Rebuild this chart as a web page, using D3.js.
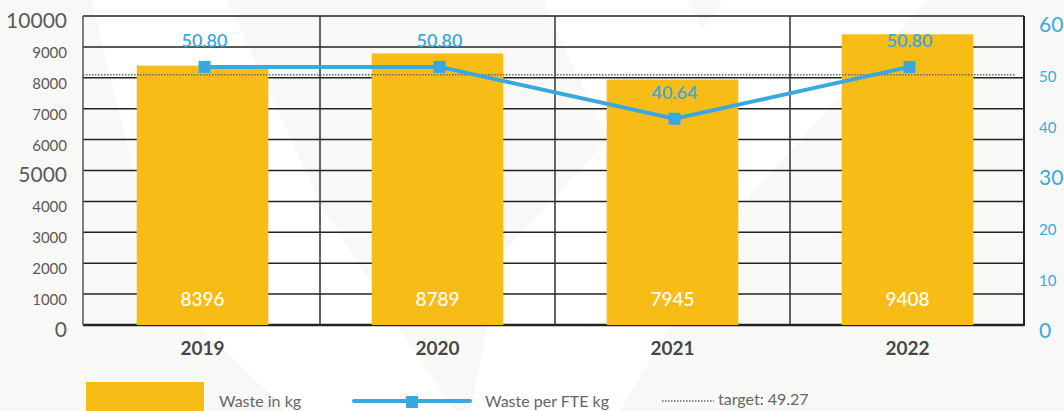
<!DOCTYPE html>
<html>
<head>
<meta charset="utf-8">
<script src="https://cdn.jsdelivr.net/npm/d3@7"></script>
<style>
  html, body { margin: 0; padding: 0; background: #f8f9f7; }
  svg { display: block; font-family: Lato, "Noto Sans", sans-serif; }
</style>
</head>
<body>
<script>
const years = ["2019", "2020", "2021", "2022"];
const wasteKg = [8396, 8789, 7945, 9408];
const wastePerFte = [50.80, 50.80, 40.64, 50.80];
const target = 49.27;
const leftTicks = [0, 1000, 2000, 3000, 4000, 5000, 6000, 7000, 8000, 9000, 10000];
const rightTicks = [0, 10, 20, 30, 40, 50, 60];
const bigLeft = [0, 5000, 10000];
const bigRight = [0, 30, 60];

const w = 1064;
const h = 411;
const plotLeft = 83;
const plotRight = 1024;
const plotTop = 16;
const plotBottom = 325;

const yellow = "#f8bc17";
const blue = "#3aa8e0";

const svg = d3.select("body").append("svg").attr("width", w).attr("height", h);

svg.append("rect").attr("width", w).attr("height", h).attr("fill", "#f8f9f7");

// faint watermark behind the chart
const mark = svg.append("g").attr("fill", "#ffffff");
mark.append("polygon")
  .attr("points", "92,0 227,0 321,205 403,334 455,411 288,411 203,330 142,205");
mark.append("polygon")
  .attr("points", "543,0 927,0 740,207 620,411 470,411 503,253 607,140");
svg.append("polygon").attr("fill", "#f8f9f7").attr("points", "687,0 703,30 723,0");

const x = d3.scaleBand().domain(years).range([85, 1025]);
const y = d3.scaleLinear().domain([0, 10000]).range([plotBottom, plotTop]);
const y2 = d3.scaleLinear().domain([0, 60]).range([326, 20]);

// horizontal grid
svg.append("g")
  .selectAll("line")
  .data(leftTicks)
  .enter()
  .append("line")
  .attr("x1", plotLeft)
  .attr("x2", plotRight)
  .attr("y1", (d) => y(d))
  .attr("y2", (d) => y(d))
  .attr("stroke", "#222")
  .attr("stroke-width", (d) => (d === 0 ? 2.5 : 1.5));

// category separators + frame sides
svg.append("g")
  .selectAll("line")
  .data(years.slice(1))
  .enter()
  .append("line")
  .attr("x1", (d) => x(d))
  .attr("x2", (d) => x(d))
  .attr("y1", plotTop)
  .attr("y2", plotBottom)
  .attr("stroke", "#333")
  .attr("stroke-width", 1.5);

svg.append("line").attr("x1", plotLeft).attr("x2", plotLeft).attr("y1", plotTop).attr("y2", plotBottom)
  .attr("stroke", "#555").attr("stroke-width", 1.5);
svg.append("line").attr("x1", plotRight).attr("x2", plotRight).attr("y1", plotTop).attr("y2", plotBottom + 1)
  .attr("stroke", "#222").attr("stroke-width", 2);

const barW = x.bandwidth() * 0.56;

svg.selectAll(".bar")
  .data(years)
  .enter()
  .append("rect")
  .attr("class", "bar")
  .attr("x", (d) => x(d) + x.bandwidth() / 2 - barW / 2)
  .attr("y", (d, i) => y(wasteKg[i]))
  .attr("width", barW)
  .attr("height", (d, i) => plotBottom - y(wasteKg[i]))
  .attr("fill", yellow);

// target dotted line
svg.append("line")
  .attr("x1", plotLeft)
  .attr("x2", 1015)
  .attr("y1", y2(target))
  .attr("y2", y2(target))
  .attr("stroke", "#666")
  .attr("stroke-width", 1.5)
  .attr("stroke-dasharray", "1.5,1.5");

// waste per FTE line
const cx = (d) => x(d) + x.bandwidth() / 2 + 2;
const line = d3.line()
  .x((d) => cx(d))
  .y((d, i) => y2(wastePerFte[i]));

svg.append("path")
  .datum(years)
  .attr("d", line)
  .attr("fill", "none")
  .attr("stroke", blue)
  .attr("stroke-width", 4);

svg.selectAll(".pt")
  .data(years)
  .enter()
  .append("rect")
  .attr("class", "pt")
  .attr("x", (d) => cx(d) - 6)
  .attr("y", (d, i) => y2(wastePerFte[i]) - 6)
  .attr("width", 12)
  .attr("height", 12)
  .attr("fill", blue);

svg.selectAll(".pt-label")
  .data(years)
  .enter()
  .append("text")
  .attr("class", "pt-label")
  .attr("x", (d) => cx(d))
  .attr("y", (d, i) => y2(wastePerFte[i]) - 27)
  .attr("text-anchor", "middle")
  .attr("dominant-baseline", "central")
  .attr("fill", blue)
  .attr("font-size", 18)
  .attr("font-weight", 600)
  .text((d, i) => wastePerFte[i].toFixed(2));

// values inside bars
svg.selectAll(".bar-label")
  .data(years)
  .enter()
  .append("text")
  .attr("class", "bar-label")
  .attr("x", (d) => x(d) + x.bandwidth() / 2)
  .attr("y", plotBottom - 27)
  .attr("text-anchor", "middle")
  .attr("dominant-baseline", "central")
  .attr("fill", "#fff")
  .attr("font-size", 19)
  .attr("font-weight", 500)
  .text((d, i) => wasteKg[i]);

// year labels
svg.selectAll(".year")
  .data(years)
  .enter()
  .append("text")
  .attr("class", "year")
  .attr("x", (d) => x(d) + x.bandwidth() / 2)
  .attr("y", plotBottom + 22)
  .attr("text-anchor", "middle")
  .attr("dominant-baseline", "central")
  .attr("fill", "#474747")
  .attr("font-size", 19)
  .attr("font-weight", 700)
  .text((d) => d);

// left axis labels
svg.selectAll(".ltick")
  .data(leftTicks)
  .enter()
  .append("text")
  .attr("class", "ltick")
  .attr("x", 67)
  .attr("y", (d) => y(d) + (bigLeft.includes(d) ? 3 : 5))
  .attr("text-anchor", "end")
  .attr("dominant-baseline", "central")
  .attr("fill", "#5a5a5a")
  .attr("font-size", (d) => (bigLeft.includes(d) ? 21 : 15))
  .text((d) => d);

// right axis labels
svg.selectAll(".rtick")
  .data(rightTicks)
  .enter()
  .append("text")
  .attr("class", "rtick")
  .attr("x", 1039)
  .attr("y", (d) => y2(d) + (bigRight.includes(d) ? 3 : 4.5))
  .attr("text-anchor", "start")
  .attr("dominant-baseline", "central")
  .attr("fill", blue)
  .attr("font-size", (d) => (bigRight.includes(d) ? 21 : 15))
  .text((d) => d);

// legend
const legend = svg.append("g").attr("font-size", 16).attr("fill", "#666");
legend.append("rect").attr("x", 86).attr("y", 382).attr("width", 118).attr("height", 29).attr("fill", yellow);
legend.append("text").attr("x", 219).attr("y", 407).text("Waste in kg");
legend.append("line").attr("x1", 354).attr("x2", 470).attr("y1", 401).attr("y2", 401)
  .attr("stroke", blue).attr("stroke-width", 4).attr("stroke-linecap", "round");
legend.append("rect").attr("x", 406).attr("y", 396).attr("width", 12).attr("height", 12).attr("fill", blue);
legend.append("text").attr("x", 485).attr("y", 407).text("Waste per FTE kg");
legend.append("line").attr("x1", 662).attr("x2", 714).attr("y1", 401).attr("y2", 401)
  .attr("stroke", "#666").attr("stroke-width", 1.5).attr("stroke-dasharray", "1.5,1.5");
legend.append("text").attr("x", 718).attr("y", 405).text("target: " + target);
</script>
</body>
</html>
